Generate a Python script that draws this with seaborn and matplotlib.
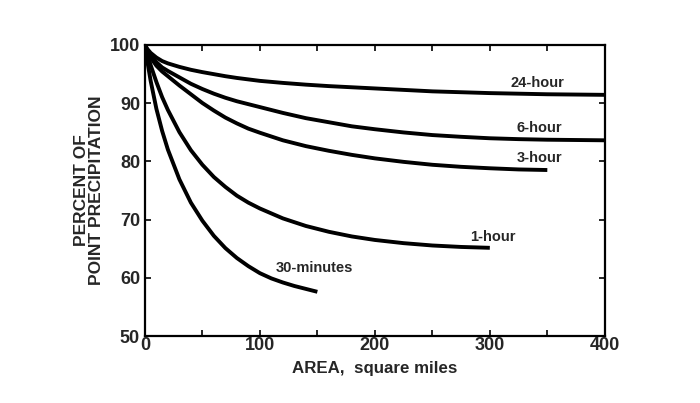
import matplotlib
matplotlib.use("Agg")
import matplotlib.pyplot as plt
import seaborn as sns
import pandas as pd

# =========================
# DATA
# =========================
area_24h = [0, 2, 5, 10, 15, 20, 30, 40, 50, 60, 70, 80, 90, 100, 120, 140, 160, 180,
            200, 225, 250, 275, 300, 325, 350, 375, 400]
pct_24h = [100, 99.3, 98.6, 97.8, 97.2, 96.8, 96.2, 95.7, 95.3, 94.95, 94.6, 94.3, 94.05,
           93.8, 93.45, 93.15, 92.9, 92.7, 92.5, 92.25, 92.0, 91.85, 91.7, 91.6, 91.5,
           91.45, 91.4]

area_6h = [0, 2, 5, 10, 15, 20, 30, 40, 50, 60, 70, 80, 90, 100, 120, 140, 160, 180,
           200, 225, 250, 275, 300, 325, 350, 375, 400]
pct_6h = [100, 99.1, 98.2, 97.0, 96.1, 95.5, 94.4, 93.3, 92.4, 91.6, 90.9, 90.3, 89.8,
          89.3, 88.3, 87.4, 86.7, 86.0, 85.5, 84.95, 84.5, 84.2, 83.95, 83.8, 83.7,
          83.65, 83.6]

area_3h = [0, 2, 5, 10, 15, 20, 30, 40, 50, 60, 70, 80, 90, 100, 120, 140, 160, 180,
           200, 225, 250, 275, 300, 325, 350]
pct_3h = [100, 98.9, 97.8, 96.4, 95.4, 94.6, 93.0, 91.5, 90.0, 88.7, 87.5, 86.5, 85.6,
          84.9, 83.6, 82.6, 81.8, 81.1, 80.5, 79.9, 79.4, 79.05, 78.8, 78.6, 78.5]

area_1h = [0, 2, 5, 10, 15, 20, 30, 40, 50, 60, 70, 80, 90, 100, 120, 140, 160, 180,
           200, 225, 250, 275, 300]
pct_1h = [100, 98.5, 96.5, 93.6, 91.0, 88.8, 85.0, 81.9, 79.4, 77.3, 75.6, 74.1, 72.9,
          71.9, 70.2, 68.9, 67.9, 67.1, 66.5, 65.95, 65.55, 65.3, 65.15]

area_30m = [0, 2, 5, 10, 15, 20, 30, 40, 50, 60, 70, 80, 90, 100, 110, 120, 130, 140, 150]
pct_30m = [100, 97.3, 93.8, 89.0, 85.2, 82.0, 76.9, 72.9, 69.8, 67.2, 65.1, 63.4, 62.0,
           60.8, 59.9, 59.2, 58.6, 58.1, 57.6]

durations = ["24-hour", "6-hour", "3-hour", "1-hour", "30-minutes"]
label_x = [341, 343, 343, 303, 147]
label_y = [93.5, 85.7, 80.6, 67.0, 61.7]

frames = []
for name, xs, ys in zip(durations,
                        [area_24h, area_6h, area_3h, area_1h, area_30m],
                        [pct_24h, pct_6h, pct_3h, pct_1h, pct_30m]):
    frames.append(pd.DataFrame({"area": xs, "pct": ys, "duration": name}))
df = pd.concat(frames, ignore_index=True)

# =========================
# PLOT
# =========================
sns.set_style("ticks")
plt.rcParams["font.family"] = ["Liberation Sans", "DejaVu Sans"]

fig = plt.figure(figsize=(7, 4.03), dpi=100)
ax = fig.add_axes([0.207, 0.166, 0.657, 0.723])

sns.lineplot(
    data=df, x="area", y="pct", hue="duration",
    palette=["black"] * len(durations), estimator=None, sort=False,
    linewidth=2.8, legend=False, ax=ax
)

for line in ax.get_lines():
    line.set_solid_joinstyle("round")
    line.set_solid_capstyle("butt")

for name, lx, ly in zip(durations, label_x, label_y):
    ax.text(lx, ly, name, ha="center", va="center", fontsize=10.5, fontweight="bold")

ax.set_xlim(0, 400)
ax.set_ylim(50, 100)
ax.set_xticks([0, 100, 200, 300, 400])
ax.set_xticks([50, 150, 250, 350], minor=True)
ax.set_yticks([50, 60, 70, 80, 90, 100])

ax.tick_params(which="both", direction="in", top=True, right=True,
               length=4, width=1.4, labelsize=13)
ax.tick_params(axis="x", pad=1)
ax.tick_params(axis="y", pad=3.5)
for lab in ax.get_xticklabels() + ax.get_yticklabels():
    lab.set_fontweight("bold")

for s in ax.spines.values():
    s.set_linewidth(1.6)
    s.set_color("black")

ax.set_xlabel("AREA,  square miles", fontsize=12.2, fontweight="bold", labelpad=5)
ax.set_ylabel("PERCENT OF\nPOINT PRECIPITATION", fontsize=12.5, fontweight="bold",
              linespacing=0.95)
ax.yaxis.set_label_coords(-0.09, 0.5)

fig.savefig("out.png", dpi=100)
